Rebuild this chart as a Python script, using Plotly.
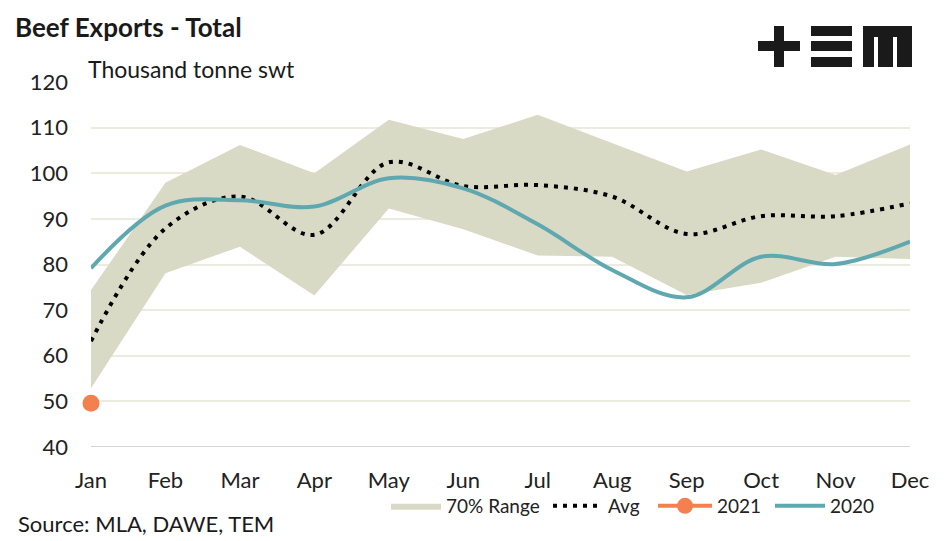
import plotly.graph_objects as go

months = ["Jan", "Feb", "Mar", "Apr", "May", "Jun", "Jul", "Aug", "Sep", "Oct", "Nov", "Dec"]
range_upper = [74.4, 97.9, 106.2, 100.0, 111.7, 107.5, 112.8, 106.6, 100.4, 105.2, 99.6, 106.3]
range_lower = [52.9, 78.1, 83.9, 73.2, 92.3, 87.7, 82.0, 81.7, 73.3, 76.0, 81.7, 81.2]
avg = [63.2, 87.9, 94.9, 86.5, 102.4, 97.2, 97.4, 94.9, 86.7, 90.6, 90.6, 93.4]
y2020 = [79.2, 92.9, 94.1, 92.7, 98.9, 96.7, 88.8, 78.8, 72.8, 81.7, 80.1, 85.0]
y2021 = [49.6]

x = list(range(len(months)))
FONT = "Lato"
RANGE_C = "#d9dac5"
TEAL = "#5fa8b0"
ORANGE = "#f4804f"

fig = go.Figure()
fig.add_trace(go.Scatter(x=x, y=range_lower, mode="lines", line=dict(width=0, color=RANGE_C),
                         showlegend=False, hoverinfo="skip"))
fig.add_trace(go.Scatter(x=x, y=range_upper, mode="lines", line=dict(width=0, color=RANGE_C),
                         fill="tonexty", fillcolor=RANGE_C, name="70% Range", hoverinfo="skip",
                         legend="legend"))
fig.add_trace(go.Scatter(x=x, y=avg, mode="lines", name="Avg", legend="legend2",
                         line=dict(color="#000000", width=4, dash="4px,6px", shape="spline", smoothing=1)))
fig.add_trace(go.Scatter(x=x[:len(y2021)], y=y2021, mode="lines+markers", name="2021", legend="legend3",
                         line=dict(color=ORANGE, width=4), marker=dict(color=ORANGE, size=17),
                         cliponaxis=False))
fig.add_trace(go.Scatter(x=x, y=y2020, mode="lines", name="2020", legend="legend4",
                         line=dict(color=TEAL, width=4, shape="spline", smoothing=1)))

OFF = 8  # page body margin
W, H = 947 - OFF, 541 - OFF
L, T = 91 - OFF, 82 - OFF
R = W - (910 - OFF)
B = H - (447 - OFF)
pw, ph = W - L - R, H - T - B

def px(xp):
    return (xp - OFF - L) / pw

def py(yp):
    return (H - B - (yp - OFF)) / ph

# logo "+≡m"
logo_rects = [
    (758, 41, 800, 51), (774, 26, 784, 67),
    (811, 26, 852, 36), (811, 41, 852, 51), (811, 57, 852, 67),
    (863, 26, 912, 37), (863, 26, 874, 67), (878, 30, 893, 67), (897, 30, 912, 67),
]
shapes = []
for x0, y0, x1, y1 in logo_rects:
    shapes.append(dict(type="rect", xref="paper", yref="paper", x0=px(x0), x1=px(x1),
                       y0=py(y1), y1=py(y0), fillcolor="#1a1a1a", line=dict(width=0), layer="above"))

def leg(xpix, iw=50):
    return dict(orientation="h", x=px(xpix), xanchor="left", y=py(487), yanchor="top",
                font=dict(size=19, color="#222222"), itemwidth=iw, bgcolor="rgba(0,0,0,0)")

fig.update_layout(
    width=W, height=H,
    margin=dict(l=L, r=R, t=T, b=B, pad=0),
    paper_bgcolor="white", plot_bgcolor="white",
    font=dict(family=FONT, size=22, color="#222222"),
    showlegend=True,
    legend=leg(386),
    legend2=leg(548),
    legend3=leg(653, 54),
    legend4=leg(770),
    xaxis=dict(range=[0, 11], tickvals=x, ticktext=months, showgrid=False, zeroline=False,
               showline=False, ticks="", ticklabelstandoff=18, fixedrange=True),
    yaxis=dict(range=[40, 120], dtick=10, tick0=40, showgrid=True, gridcolor="#ebebdf", gridwidth=1.5,
               zeroline=False, showline=False, ticks="", ticklabelstandoff=22, fixedrange=True),
    shapes=shapes + [dict(type="line", xref="paper", yref="y", x0=0, x1=1, y0=40, y1=40,
                          line=dict(color="#d4d4d4", width=2), layer="below")],
    annotations=[
        dict(text="<b>Beef Exports - Total</b>", xref="paper", yref="paper", x=px(13), y=py(27),
             xanchor="left", yanchor="middle", showarrow=False, font=dict(size=26, color="#1a1a1a")),
        dict(text="Thousand tonne swt", xref="paper", yref="paper", x=px(86), y=py(69),
             xanchor="left", yanchor="middle", showarrow=False, font=dict(size=23, color="#1a1a1a")),
        dict(text="Source: MLA, DAWE, TEM", xref="paper", yref="paper", x=px(16), y=py(523),
             xanchor="left", yanchor="middle", showarrow=False, font=dict(size=22, color="#1a1a1a")),
    ],
)

fig.write_html("out.html")
